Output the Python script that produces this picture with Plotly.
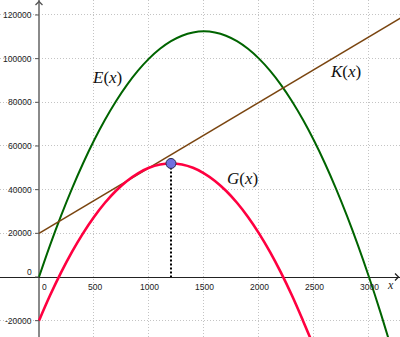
import plotly.graph_objects as go

# ---- data ----
x_vals = [0, 100, 200, 300, 400, 500, 600, 700, 800, 900, 1000, 1100, 1200, 1300, 1400, 1500,
          1600, 1700, 1800, 1900, 2000, 2100, 2200, 2300, 2400, 2500, 2600, 2700, 2800, 2900,
          3000, 3100, 3200]
E_vals = [0, 14500, 28000, 40500, 52000, 62500, 72000, 80500, 88000, 94500, 100000, 104500,
          108000, 110500, 112000, 112500, 112000, 110500, 108000, 104500, 100000, 94500, 88000,
          80500, 72000, 62500, 52000, 40500, 28000, 14500, 0, -15500, -32000]
G_x = [0, 100, 200, 300, 400, 500, 600, 700, 800, 900, 1000, 1100, 1200, 1300, 1400, 1500,
       1600, 1700, 1800, 1900, 2000, 2100, 2200, 2300, 2400, 2500]
G_vals = [-20000, -8500, 2000, 11500, 20000, 27500, 34000, 39500, 44000, 47500, 50000, 51500,
          52000, 51500, 50000, 47500, 44000, 39500, 34000, 27500, 20000, 11500, 2000, -8500,
          -20000, -32000]
K_x = [0, 3300]
K_vals = [20000, 119000]
max_point = (1200, 52000)

x_ticks = [0, 500, 1000, 1500, 2000, 2500, 3000]
y_ticks = [-20000, 0, 20000, 40000, 60000, 80000, 100000, 120000]

X_RANGE = [-354.5, 3282]
Y_RANGE = [-27480, 126860]

fig = go.Figure()

fig.add_trace(go.Scatter(x=x_vals, y=E_vals, mode="lines", line=dict(color="#006400", width=2, shape="spline"),
                         hoverinfo="skip"))
fig.add_trace(go.Scatter(x=K_x, y=K_vals, mode="lines", line=dict(color="#7a4510", width=1.6),
                         hoverinfo="skip"))
fig.add_trace(go.Scatter(x=G_x, y=G_vals, mode="lines", line=dict(color="#ff0040", width=2.6, shape="spline"),
                         hoverinfo="skip"))
fig.add_trace(go.Scatter(x=[max_point[0], max_point[0]], y=[max_point[1], 0], mode="lines",
                         line=dict(color="#000000", width=2, dash="2px,2px"), hoverinfo="skip"))
fig.add_trace(go.Scatter(x=[max_point[0]], y=[max_point[1]], mode="markers",
                         marker=dict(size=10, color="#7070e0", line=dict(color="#2a2a50", width=1)),
                         hoverinfo="skip"))

annotations = []
label_font = dict(family="Liberation Sans, Arial, sans-serif", size=8.5, color="#222222")
for t in y_ticks:
    annotations.append(dict(x=0, y=t, xref="x", yref="y", text=str(t), showarrow=False,
                            xanchor="right", yanchor="middle", xshift=-5,
                            yshift=(5 if t == 0 else 0), font=label_font))
for t in x_ticks:
    annotations.append(dict(x=t, y=0, xref="x", yref="y", text=str(t), showarrow=False,
                            xanchor="center", yanchor="top", xshift=(6 if t == 0 else 1), yshift=-3,
                            font=label_font))

fn_font = dict(family="Liberation Serif, Times New Roman, serif", size=17, color="#111111")
annotations.append(dict(x=0.268, y=1 - 77 / 337, xref="paper", yref="paper", text="<i>E</i>(<i>x</i>)",
                        showarrow=False, font=fn_font, xanchor="center", yanchor="middle"))
annotations.append(dict(x=0.8625, y=1 - 71 / 337, xref="paper", yref="paper", text="<i>K</i>(<i>x</i>)",
                        showarrow=False, font=fn_font, xanchor="center", yanchor="middle"))
annotations.append(dict(x=0.6063, y=1 - 178 / 337, xref="paper", yref="paper", text="<i>G</i>(<i>x</i>)",
                        showarrow=False, font=fn_font, xanchor="center", yanchor="middle"))
annotations.append(dict(x=0.977, y=1 - 285 / 337, xref="paper", yref="paper", text="<i>x</i>",
                        showarrow=False, font=dict(family="Liberation Serif, serif", size=12, color="#222"),
                        xanchor="center", yanchor="middle"))

shapes = []
# axis arrows (pixel-sized, anchored to axis ends)
shapes.append(dict(type="path", xref="x", yref="y", xsizemode="pixel", ysizemode="pixel",
                   xanchor=X_RANGE[1], yanchor=0, path="M -5 3.5 L -1.5 0 L -5 -3.5",
                   line=dict(color="#222222", width=1.3)))
shapes.append(dict(type="path", xref="x", yref="y", xsizemode="pixel", ysizemode="pixel",
                   xanchor=0, yanchor=Y_RANGE[1], path="M -3.5 -5 L 0 -1.5 L 3.5 -5",
                   line=dict(color="#555555", width=1.3)))
# small tick marks on the y axis
for t in y_ticks:
    shapes.append(dict(type="line", xref="x", yref="y", xsizemode="pixel", xanchor=0,
                       x0=-4, x1=0, y0=t, y1=t, line=dict(color="#555555", width=1)))

fig.update_layout(
    width=400, height=337, autosize=False,
    margin=dict(l=0, r=0, t=0, b=0),
    paper_bgcolor="white", plot_bgcolor="white",
    showlegend=False,
    annotations=annotations,
    shapes=shapes,
)
fig.update_xaxes(range=X_RANGE, showticklabels=False, ticks="", tick0=0, dtick=500,
                 showgrid=True, gridcolor="#c4c4c4", gridwidth=1, griddash="1px,2px",
                 zeroline=True, zerolinecolor="#8a8a8a", zerolinewidth=2.2, showline=False, fixedrange=True)
fig.update_yaxes(range=Y_RANGE, showticklabels=False, ticks="", tick0=0, dtick=20000,
                 showgrid=True, gridcolor="#c4c4c4", gridwidth=1, griddash="1px,2px",
                 zeroline=True, zerolinecolor="#222222", zerolinewidth=1.4, showline=False, fixedrange=True)

fig.write_html("out.html", config={"displayModeBar": False})
